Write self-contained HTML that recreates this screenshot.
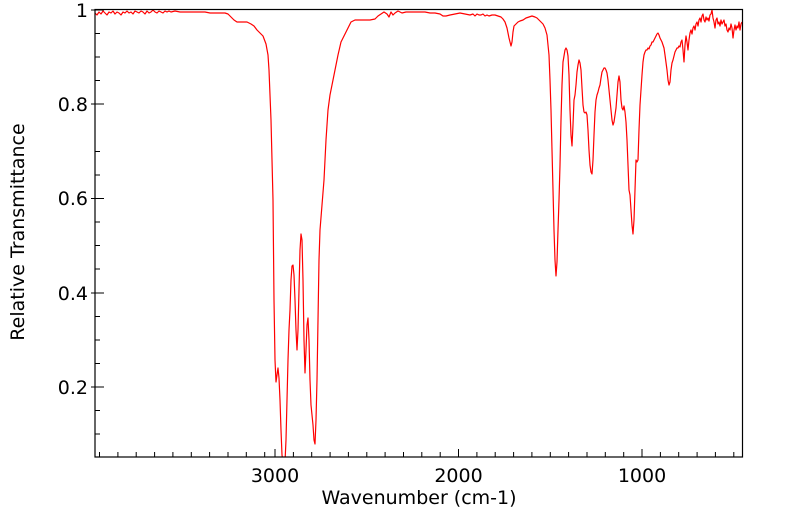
<!DOCTYPE html>
<html><head><meta charset="utf-8"><style>
html,body{margin:0;padding:0;background:#fff;}
svg{display:block;font-family:"DejaVu Sans","Liberation Sans",sans-serif;}
</style></head><body>
<svg width="799" height="516" viewBox="0 0 799 516" xmlns="http://www.w3.org/2000/svg">
<defs><clipPath id="c"><rect x="95" y="10" width="648" height="447"/></clipPath></defs>
<rect x="0" y="0" width="799" height="516" fill="#fff"/>
<g clip-path="url(#c)">
<polyline fill="none" stroke="#ff0000" stroke-width="1.2" stroke-linejoin="round" points="
95,13 97,15 99,12 101,14 103,11 105,13 107,15 109,12 111,13 113,11 115,14 117,12 119,13 121,15 123,12 125,13 127,11 129,13 131,12 133,14 135,11 137,12 139,13 141,11 143,12 145,14 147,11 149,13 151,12 153,10 155,12 157,13 159,11 161,12 163,13 165,11 167,12 169,11 171,12 175,11 180,12 185,12 190,12 195,12 200,12 205,12 210,13 215,13 220,13 225,13 228,14 231,17 234,20 237,22 242,22 247,22 251,24 254,26 257,30 260,33 263,36 266,44 268,55 269,70 271,120 272,160 273,200 274,300 275,360 276,382 277,375 278,368 279,378 280,400 281,430 282,455 283,462 285,462 286,440 287,400 288,360 289,330 290,310 291,280 292,266 293,265 294,275 295,300 296,330 297,350 298,330 299,290 300,250 301,234 302,240 303,280 304,340 305,373 306,350 307,325 308,318 309,340 310,380 311,405 312,415 313,425 314,440 315,444 316,420 317,380 318,320 319,260 320,230 322,205 324,180 326,140 328,110 330,95 332,85 335,70 338,55 341,42 345,34 348,28 351,22 355,20 360,20 365,20 370,20 375,19 378,16 381,14 384,12 387,14 389,17 391,12 393,15 395,13 398,11 402,13 406,12 410,12 415,12 420,12 425,12 430,13 435,13 440,14 443,16 446,16 450,15 455,14 460,13 465,14 470,15 473,14 475,16 477,14 479,15 481,15 483,14 485,16 487,15 489,16 492,15 495,15 498,16 501,17 503,19 505,22 507,28 509,38 511,46 512,42 513,32 514,26 516,24 518,22 520,21 523,20 526,18 529,17 532,16 535,17 537,18 539,20 541,22 543,24 545,28 547,35 548,45 549,55 550,80 551,110 552,150 553,190 554,230 555,260 556,276 557,262 558,230 559,200 560,165 561,120 562,85 563,62 564,56 565,50 566,48 567,50 568,56 569,75 570,110 571,135 572,146 573,125 574,100 575,95 576,85 577,72 578,65 579,60 580,63 581,70 582,88 583,105 584,112 585,113 586,112 587,115 588,130 589,150 590,165 591,172 592,174 593,160 594,135 595,112 596,100 597,95 598,92 599,88 600,85 601,78 602,72 603,70 604,68 605,68 606,70 607,73 608,80 609,90 610,100 611,110 612,120 613,125 614,122 615,115 616,108 617,95 618,82 619,76 620,82 621,100 622,108 623,110 624,106 625,112 626,122 627,140 628,165 629,190 630,195 631,210 632,225 633,234 634,220 635,190 636,160 637,162 638,160 639,130 640,105 641,90 642,75 643,62 644,55 645,52 646,50 647,50 648,48 649,49 650,46 651,45 652,42 653,42 654,40 655,38 656,36 657,34 658,33 659,35 660,38 662,42 664,48 665,55 667,70 668,80 669,85 670,82 671,70 672,63 673,60 674,56 675,52 676,50 677,48 678,48 679,46 680,47 681,42 682,40 683,50 684,62 685,45 686,36 687,42 688,50 689,40 690,33 691,30 692,34 693,28 694,26 695,30 696,24 697,22 698,26 699,20 700,18 701,22 702,16 703,14 704,20 705,22 706,17 707,20 708,18 709,21 710,15 711,14 712,10 713,18 714,22 715,28 716,20 717,18 718,24 719,22 720,26 721,20 722,24 723,22 724,20 725,26 726,24 727,30 728,32 729,28 730,30 731,24 732,28 733,38 734,30 735,25 736,30 737,26 738,28 739,22 740,30 741,24 742,22"/>
</g>
<rect x="95" y="9.5" width="647.5" height="447.5" fill="none" stroke="#000" stroke-width="1.2"/>
<g stroke="#000" stroke-width="1">
<path d="M91,10H104 M91,104H104 M91,198.5H104 M91,293H104 M91,387H104"/>
<path d="M95,33.5H100 M95,57H100 M95,80.5H100 M95,151.5H100 M95,175H100 M95,222H100 M95,245.5H100 M95,269H100 M95,316.5H100 M95,340H100 M95,363.5H100 M95,410.5H100 M95,434H100"/>
<path d="M275,457V449 M458.5,457V449 M642,457V449"/>
<path d="M99.5,457V452 M117.9,457V452 M136.2,457V452 M154.6,457V452 M172.9,457V452 M191.3,457V452 M209.6,457V452 M228,457V452 M246.3,457V452 M264.7,457V452
M293.4,457V452 M311.7,457V452 M330.1,457V452 M348.4,457V452 M366.8,457V452 M385.1,457V452 M403.5,457V452 M421.8,457V452 M440.2,457V452
M476.9,457V452 M495.2,457V452 M513.6,457V452 M531.9,457V452 M550.3,457V452 M568.6,457V452 M587,457V452 M605.3,457V452 M623.7,457V452
M660.4,457V452 M678.7,457V452 M697.1,457V452 M715.4,457V452 M733.8,457V452"/>
</g>
<g font-size="19" fill="#000">
<text x="88" y="17" text-anchor="end">1</text>
<text x="88" y="111" text-anchor="end">0.8</text>
<text x="88" y="205" text-anchor="end">0.6</text>
<text x="88" y="300" text-anchor="end">0.4</text>
<text x="88" y="394" text-anchor="end">0.2</text>
<text x="275" y="482" text-anchor="middle">3000</text>
<text x="458.5" y="482" text-anchor="middle">2000</text>
<text x="642" y="482" text-anchor="middle">1000</text>
<text x="419" y="504" text-anchor="middle">Wavenumber (cm-1)</text>
<text transform="translate(24,232) rotate(-90)" text-anchor="middle">Relative Transmittance</text>
</g>
</svg>
</body></html>
